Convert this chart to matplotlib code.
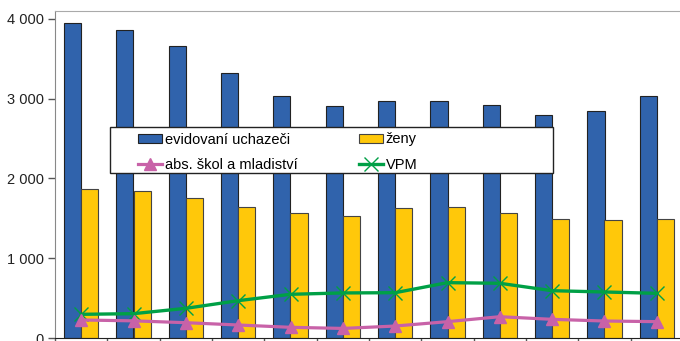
import matplotlib.pyplot as plt
import numpy as np
from matplotlib.patches import Rectangle

plt.rcParams['font.family'] = ['Liberation Sans', 'DejaVu Sans']

# values (12 periods)
uchazeci = [3950, 3865, 3665, 3320, 3030, 2910, 2970, 2970, 2920, 2795, 2840, 3030]
zeny = [1865, 1845, 1752, 1646, 1567, 1530, 1630, 1643, 1567, 1492, 1480, 1492]
absolventi = [226, 215, 192, 163, 134, 120, 150, 205, 267, 234, 213, 205]
vpm = [297, 305, 372, 468, 548, 565, 568, 694, 686, 593, 577, 560]
yticks = [0, 1000, 2000, 3000, 4000]
ytick_labels = ["0", "1 000", "2 000", "3 000", "4 000"]
labels = ["evidovaní uchazeči", "abs. škol a mladiství", "ženy", "VPM"]

blue = "#3063AC"
yellow = "#FFC80A"
pink = "#C862A8"
green = "#00A046"

W, H = 680, 341
fig = plt.figure(figsize=(W / 100, H / 100), dpi=100)
ax = fig.add_axes([55 / W, 1 - 338 / H, 628 / W, 327 / H])

x = np.arange(len(uchazeci))
bw = 0.325
b1 = ax.bar(x - bw / 2, uchazeci, bw, color=blue, edgecolor="#222222", linewidth=0.8, zorder=2)
b2 = ax.bar(x + bw / 2, zeny, bw, color=yellow, edgecolor="#444444", linewidth=0.8, zorder=2)
l2, = ax.plot(x, vpm, color=green, lw=2.4, marker="x", ms=10, mew=1.0, zorder=3)
l1, = ax.plot(x, absolventi, color=pink, lw=2.3, marker="^", ms=9, zorder=4)

ax.set_xlim(-0.5, len(x) - 0.5)
ax.set_ylim(0, 4100)
ax.set_yticks(yticks)
ax.set_yticklabels(ytick_labels, fontsize=10.5, color="#222222")
ax.set_xticks(np.arange(-0.5, len(x), 1.0))
ax.set_xticklabels([])
ax.tick_params(axis="both", direction="out", length=5, width=1, color="#555555")
ax.tick_params(axis="y", pad=3)

ax.spines["left"].set_color("#888888")
ax.spines["top"].set_color("#aaaaaa")
ax.spines["bottom"].set_color("#222222")
ax.spines["right"].set_visible(False)

# legend box drawn by hand so it can be wider than its contents
fig.patches.append(Rectangle((110 / W, 1 - 173 / H), 443 / W, 46 / H, transform=fig.transFigure,
                             facecolor="white", edgecolor="#222222", linewidth=1, zorder=5))
fs = 10.5
fpx = fs * 100 / 72
leg = fig.legend([b1, l1, b2, l2], labels, ncol=2, frameon=False, fontsize=fs,
                 loc="upper left", bbox_to_anchor=(138 / W, 1 - 132.5 / H),
                 bbox_transform=fig.transFigure, borderpad=0, borderaxespad=0,
                 handlelength=24 / fpx, handleheight=0.6, handletextpad=3 / fpx,
                 columnspacing=61 / fpx, labelspacing=0.78, numpoints=1)
leg.set_zorder(6)

fig.savefig("out.png", dpi=100)
